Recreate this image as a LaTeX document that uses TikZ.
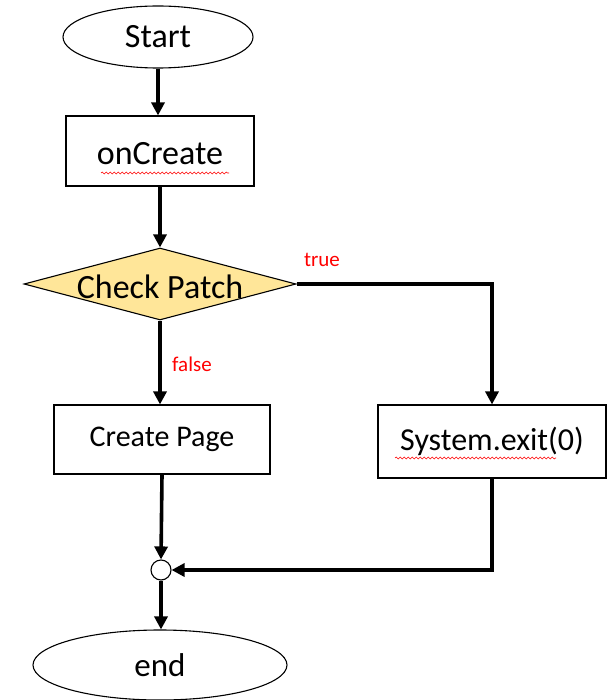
\documentclass[tikz,border=0pt]{standalone}
\usepackage{fontspec}
\setmainfont{Carlito}
\usetikzlibrary{shapes.geometric,arrows.meta,decorations.pathmorphing}
\definecolor{decfill}{HTML}{FFE699}
\begin{document}
\begin{tikzpicture}[x=1pt,y=-1pt,
  terminal/.style={ellipse, draw, line width=1.1pt, inner sep=0pt},
  procbox/.style={rectangle, draw, line width=1.1pt, inner sep=0pt},
  decision/.style={diamond, draw, line width=1.1pt, fill=decfill, inner sep=0pt},
  flow/.style={line width=3.6pt, -{Triangle[length=13pt,width=13pt]}},
  branch/.style={text=red, font=\fontsize{21}{25}\selectfont},
  spell/.style={red, line width=0.6pt, decorate,
    decoration={snake, amplitude=0.9pt, segment length=4pt}}]
\useasboundingbox (0,0) rectangle (615,700);

% nodes
\node[terminal, minimum width=190pt, minimum height=62pt,
      font=\fontsize{34}{40}\selectfont] (start) at (158,37) {Start};
\node[procbox, minimum width=188pt, minimum height=70pt,
      label={[font=\fontsize{34}{40}\selectfont, yshift=-3pt]center:onCreate}] (oncreate) at (160,151) {};
\node[decision, minimum width=272pt, minimum height=72pt,
      label={[font=\fontsize{34}{40}\selectfont, yshift=-3pt]center:Check Patch}] (check) at (160,284) {};
\node[procbox, minimum width=216pt, minimum height=69pt,
      font=\fontsize{30}{36}\selectfont] (create) at (162,439.5) {Create Page};
\node[procbox, minimum width=228pt, minimum height=73pt,
      font=\fontsize{32}{38}\selectfont] (sys) at (492,441.5) {System.exit(0)};
\node[circle, draw, line width=1.1pt, minimum size=20pt, inner sep=0pt] (merge) at (161,570) {};
\node[terminal, minimum width=254pt, minimum height=70pt,
      font=\fontsize{33}{39}\selectfont] (end) at (160,665) {end};

% spell-check underlines
\draw[spell] (101,173) -- (229,173);
\draw[spell] (395,458) -- (556,458);

% connectors
\draw[flow] (start) -- (start |- oncreate.north);
\draw[flow] (oncreate) -- (check.north);
\draw[flow] (check.east) -| (sys.north);
\draw[flow] (check.south) -- (check.south |- create.north);
\draw[flow] (create.south) -- (merge.north);
\draw[flow] (sys.south) |- (merge.east);
\draw[flow] (merge.south) -- (merge.south |- end.north);

% branch labels
\node[branch] (truelbl) at (322,260) {true};
\node[branch] (falselbl) at (192,364) {false};
\end{tikzpicture}
\end{document}
